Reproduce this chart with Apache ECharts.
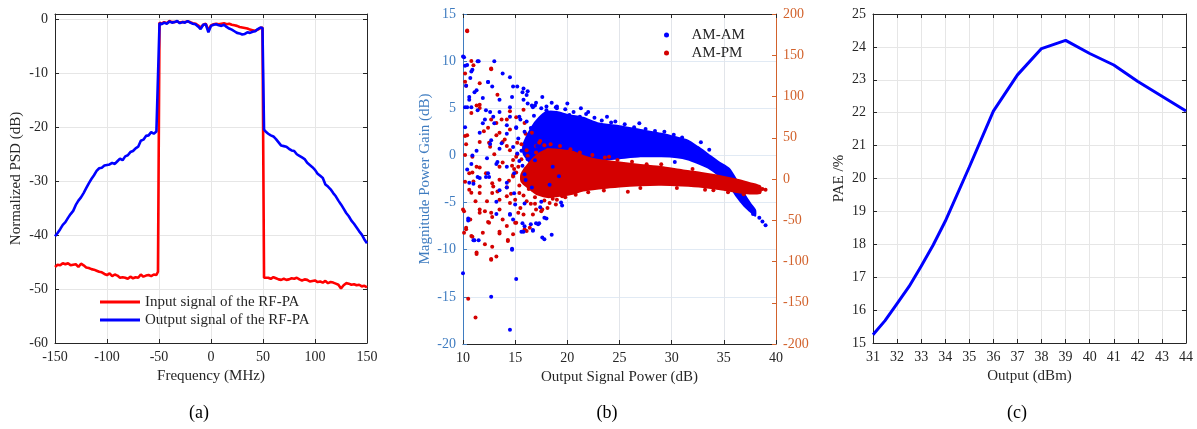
<!DOCTYPE html>
<html><head><meta charset="utf-8">
<script src="https://cdn.jsdelivr.net/npm/echarts@6/dist/echarts.min.js"></script>
<style>html,body{margin:0;padding:0;background:#fff}#c{width:1197px;height:429px}</style>
</head><body><div id="c"></div>
<script>
// ---------- Panel (a): PSD ----------
const freqA = [-150,-147.5,-145,-142.5,-140,-137.5,-135,-132.5,-130,-127.5,-125,-122.5,-120,-117.5,-115,-112.5,-110,-107.5,-105,-102.5,-100,-97.5,-95,-92.5,-90,-87.5,-85,-82.5,-80,-77.5,-75,-72.5,-70,-67.5,-65,-62.5,-60,-57.5,-55,-52.5,
 -51,-49.5,
 -47.5,-45,-42.5,-40,-37.5,-35,-32.5,-30,-27.5,-25,-22.5,-20,-17.5,-15,-12.5,-10,-7.5,-5,-2.5,0,2.5,5,7.5,10,12.5,15,17.5,20,22.5,25,27.5,30,32.5,35,37.5,40,42.5,45,47.5,
 49.5,51,
 52.5,55,57.5,60,62.5,65,67.5,70,72.5,75,77.5,80,82.5,85,87.5,90,92.5,95,97.5,100,102.5,105,107.5,110,112.5,115,117.5,120,122.5,125,127.5,130,132.5,135,137.5,140,142.5,145,147.5,150];
const inputPSD = [-45.9,-45.5,-45.6,-45.2,-45.4,-45.2,-45.6,-45.5,-45.4,-45.9,-45.3,-45.6,-46.0,-46.1,-46.3,-46.4,-46.6,-46.8,-46.9,-47.2,-47.4,-47.1,-47.6,-47.3,-47.5,-47.9,-47.8,-47.9,-48.1,-47.7,-48.0,-47.8,-47.9,-47.3,-47.7,-47.5,-47.4,-47.6,-47.3,-47.4,
 -46.8,-0.6,
 -0.8,-0.5,-0.7,-0.3,-0.5,-0.5,-0.4,-0.6,-0.5,-0.5,-0.4,-0.5,-0.7,-0.8,-1.1,-1.5,-1.0,-0.8,-2.0,-1.1,-0.9,-0.8,-0.9,-0.8,-0.7,-0.9,-0.8,-1.0,-1.1,-1.2,-1.4,-1.5,-1.6,-1.7,-1.9,-2.0,-2.1,-1.9,-1.6,
 -1.5,-47.9,
 -48.2,-47.9,-48.1,-47.8,-48.0,-48.2,-48.3,-48.1,-48.3,-48.2,-48.0,-48.1,-47.9,-48.2,-48.4,-48.2,-48.3,-48.6,-48.5,-48.4,-48.7,-48.6,-48.8,-48.5,-48.9,-48.7,-48.8,-49.0,-49.2,-49.9,-49.3,-48.9,-49.0,-49.2,-49.1,-49.3,-49.2,-49.5,-49.4,-49.7];
const outputPSD = [-40.2,-39.6,-38.9,-38.1,-37.6,-36.8,-36.1,-35.5,-34.4,-33.6,-33.0,-32.2,-31.3,-30.4,-29.6,-28.9,-28.1,-27.6,-27.5,-27.1,-27.0,-26.9,-26.6,-26.8,-26.3,-25.8,-26.1,-25.4,-25.2,-24.6,-24.4,-23.9,-23.6,-22.5,-22.3,-21.6,-21.5,-20.9,-21.2,-20.8,
 -20.9,-0.7,
 -0.9,-0.6,-0.8,-0.4,-0.6,-0.5,-0.3,-0.7,-0.5,-0.6,-0.3,-0.6,-0.8,-0.9,-1.3,-1.8,-1.0,-0.9,-2.4,-1.2,-1.0,-0.9,-1.1,-1.2,-1.0,-1.4,-1.7,-1.9,-2.2,-2.5,-2.6,-2.8,-2.7,-2.4,-2.5,-2.3,-2.2,-1.8,-1.5,
 -1.6,-20.4,
 -20.8,-21.2,-21.5,-21.7,-22.2,-22.8,-23.4,-23.5,-23.6,-24.0,-24.3,-24.4,-25.0,-25.3,-25.6,-25.9,-26.6,-27.0,-27.4,-27.9,-28.6,-29.0,-29.4,-30.6,-31.0,-31.5,-32.2,-32.8,-33.6,-34.3,-35.1,-35.9,-36.5,-37.3,-37.9,-38.6,-39.3,-39.9,-40.8,-41.5];

// ---------- Panel (b): AM-AM / AM-PM ----------
// dense cloud envelopes
const amBandX      = [15.8, 16.6, 17.3, 18, 19, 20, 21.5, 23, 25, 27, 29, 30.5, 31.5, 32.5, 33.5, 34.5, 35.5, 36.2, 37, 37.6, 38];
const amBandTop    = [1.2, 3.0, 4.0, 4.6, 4.6, 4.3, 4.0, 3.4, 3.1, 2.7, 2.3, 1.9, 1.6, 0.9, 0.1, -0.7, -1.4, -2.6, -4.2, -5.2, -5.8];
const amBandBottom = [0.2, -1.0, -1.8, -2, -1.5, -1, -0.7, -0.5, -0.3, -0.1, -0.1, -0.2, -0.4, -0.8, -1.3, -2.1, -3.1, -4.3, -5.4, -6.0, -6.4];
const pmBandX      = [15.6, 16.4, 17.2, 18.2, 19.5, 20.5, 21.5, 23, 25, 27, 29, 31, 33, 35, 36.5, 37.5, 38.5];
const pmBandTop    = [6, 20, 30, 36, 35, 33, 28, 23, 20, 17, 14.5, 10.5, 7, 2.5, -1.5, -5, -9];
const pmBandBottom = [-3, -12, -19, -22, -20, -18, -14, -11.5, -9, -7.5, -7, -8, -9.8, -13, -16.5, -17.5, -17];
// sparse individual points
const amamPoints = [[10,10.5],[10.2,9.5],[10.8,8.9],[11.5,10],[13,10],[10.3,7.4],[10.2,5.1],[10.8,5.1],[10.2,3],[10.6,5.9],[11.3,6.9],[12.4,7.8],[13.8,8.7],[14.8,7.3],[15.8,7.1],[12.2,4.8],[13.5,5.9],[11.9,3.4],[12.9,4.1],[14.5,5.1],[15.8,5.9],[16.7,5.1],[14.2,2.3],[12.6,1.2],[10.8,-0.9],[11.3,0.5],[13.5,0.7],[15.1,3.0],[18,4.8],[18.9,5.1],[20.2,4.3],[21.2,4.1],[12.2,-2.3],[11,-3.0],[13.2,-0.9],[14.2,-3.4],[15.9,-2],
 [10.5,-6.9],[11,-9],[11.5,-9],[13.2,-6.2],[14.5,-6.2],[14.7,-10],[15.1,-13.1],[12.7,-15],[14.5,-18.5],[15.8,-8.1],[16.7,-8],[15.9,-7.5],[16.5,-7.3],[17.2,-7.3],[17.8,-8.9],[18,-6.7],[18.5,-8.4],[10,-12.5],[15,-5.2],[19.5,-5.3],[17.4,-5.5],
 [10.6,-2.9],[11.6,-2.4],[14.5,-6.3],[14.8,-6.8],[15.7,-7.2],[17,-7.2],[17.3,-7.2],[17.8,-6.6],[15.6,-8.1],[16.7,-7.9],[17.6,-8.7],[14.7,-9.9],[13.2,-4.9],[11.1,-9],[10.5,-6.7],[19.4,-5],[17.5,-4.9],[15.9,-5.1],[14.9,-4],[14.2,-2.9],[13.5,-3.7],[12.5,-2.3],[16,-2.6],
 [10.1,10.4],[11.4,10],[10.4,9.6],[10.9,9.1],[10.7,8.2],[14.5,8.3],[12.4,7.8],[12.8,7.3],[11.1,6.7],[15.2,7.3],[15.7,6.7],[16.1,6.4],[10.6,6.2],[11.9,6.1],[14.7,6.2],[16.2,5.5],[16.9,5.3],[17.5,5],[18,5.2],[19,5],[10.4,5.1],[11.4,4.8],[12.6,4.6],[13.5,4.6],[14.5,4.1],[15.4,4.1],[12.1,3.8],[13,3.4],[14.2,3.2],[15.1,2.9],[15.9,2.5],[11.6,2.4],[12.7,1.6],[13.7,1.3],[14.8,0.9],[10.9,0],[12.3,-0.3],[13.3,-0.7],[14.2,-1.2],[10.4,-1.5],[12.4,-1.9],[11.4,-2.3],
 [19,5.2],[19.8,4.9],[20.6,4.6],[21.8,4.4],[22.6,4.0],[23.3,3.7],[24.2,3.5],[25.5,3.3],[26.4,3.0],[27.5,2.8],[28.4,2.6],[29.3,2.5],[30.2,2.2],[31,1.9],[24.6,3.6],[22,4.6],[20,5.5],[18.5,5.6],[17.6,6.2],[17,5.6],[16.2,6.8],[16.6,5.3],[18.2,3.9],[16.4,1.2],[16.9,-0.5],[17.3,2.7],[15.6,0.5],[16.1,3.6],[17.9,1.8],[18.6,-1.2],[15.3,1.8],[14.9,-1.9],[16.6,-3.4],[18.3,-3.1],[19.2,-2.2],[30.3,-0.7],[38.4,-6.6],[38.7,-7],[39,-7.4],[37.8,-6.2],[32.8,1.4],[33.6,0.6],[21.3,5.0],[23.8,4.1],[26.9,3.4],
 [15.5,3.8],[16.3,2.2],[15.2,0.2],[16.8,4.2],[17.1,1.0],[15.7,-1.1],[16.2,-0.4],[16.5,2.9],[15.4,-0.6],[17.8,3.1]];
const ampmPoints = [[10.4,180],[10.8,143],[11,138],[12.7,133],[10.2,128],[10.3,113],[11.6,90],[11.6,86],[13.3,102],[15.8,84],[14.2,72],[13.2,68],[10.3,42],[10.2,29],[10.8,80],[12,58],[12.5,44],[11.3,15],[11,-3],[12.2,7],[13.5,56],[14.2,40],[15.1,27],[11.6,-17],[12.9,-9],[10.2,52],
 [10.1,-65],[10.3,-59],[10.8,-69],[10.7,-49],[11.3,-91],[10.5,-145],[11.2,-168],[12.7,-98],[13.2,-94],[12.1,-79],[12.5,-53],[13.5,-66],[14.2,-57],[14.3,-75],[12.7,-41],[11.6,-41],[15.8,-43],[15.1,-53],[16.7,-43],[17.5,-39],[18.1,-35],[18.9,-31],[16.1,-63],[11.9,-65],[10.1,-39],[14.8,-67],
 [10.2,-3.4],[10.8,-16.7],[10,-37],[10.3,-61],[10.9,-70],[11.3,-89],[12.8,-82],[12.7,-97],[14.3,-74],[13.5,-64],[11.6,-37],[12.1,-39],[12.4,-52],[12.8,-46],[13.8,-49],[15,-53],[15.3,-41],[15.9,-61],[16.4,-59],[17,-37],[17.6,-37],[18.3,-29],[19,-25],[16.1,-27],[14.5,-29],[12.3,-27],[11.2,-27],[10.6,-13],[11.6,-9],[12.8,-17],[14.2,-21],[15.4,-17],[13.5,-1],[14.8,3],[16.7,-13],[18,-19],[19.5,-21],[13.5,-37],[10.6,7],
 [10.4,179],[12.7,134],[10.2,118],[11.6,116],[11.3,89],[13.7,72],[14.5,82],[12.7,72],[12.4,62],[13.2,53],[13.8,45],[11.6,45],[10.4,53],[10.9,27],[12.6,39],[14.5,60],[15.1,75],[15.9,68],[16.6,56],[15.2,44],[16.1,35],[17.3,44],[14.8,23],[13.5,15],[11.6,14],[10.9,8],[17,32],[18.1,35],
 [13.8,20],[14.2,-10],[14.5,35],[14.8,5],[15,-25],[15.3,15],[15.6,42],[15.9,-5],[16.2,28],[16.5,-30],[16.8,10],[17,40],[17.3,-15],[17.6,22],[13.5,-25],[13,30],[12.8,-5],[14,48],[15.5,-35],[16,55],[14.6,-18],[15.2,30],[15.7,0],[16.3,-12],[16.9,-22],[17.8,-26],[18.6,-24],[19.8,-22],[20.8,-19],[22,-16],[17.4,46],[18.4,42],[19.3,40],[20.3,36],[21.2,32],[22.4,29],[23.6,26],[24.8,23],[26.2,21],[27.6,18],[14.9,12],[16.4,18],[13.3,-15],[15.8,-20],
 [38.7,-12],[39,-13],[25.8,-15.5],[37.9,-15],[38.2,-11],[36.9,-18.5],[34,-13.5],
 [15.1,8],[15.4,-8],[14.7,16],[16.0,12],[15.6,24],[14.4,-2],[16.9,-30],[17.8,41],[23.5,-14],[27,-11],[30.5,-11],[33.2,-13],[35.4,-16],[24,27],[29,18],[32,12]];

// ---------- Panel (c): PAE ----------
const paeOutput = [31,31.5,32,32.5,33,33.5,34,35,36,37,38,39,40,41,42,43,44];
const paeValues = [15.25,15.68,16.2,16.72,17.33,17.98,18.7,20.35,22.05,23.15,23.95,24.2,23.8,23.45,22.95,22.5,22.05];

// ---------- styling ----------
const FONT = "'Liberation Serif','DejaVu Serif',serif";
const DARK = '#262626';
const GRIDC = '#e6e6e6';
const LBLUE = '#3f7cc0';
const ORANGE = '#d2622c';

function bottomX(gi, min, max, interval, name, gridColor) {
  return {type:'value', gridIndex:gi, position:'bottom', min, max, interval,
    name, nameLocation:'middle', nameGap:25, nameTextStyle:{fontFamily:FONT, fontSize:15, color:DARK},
    axisLine:{show:true, onZero:false, lineStyle:{color:DARK, width:1}},
    axisTick:{show:true, inside:true, length:4, lineStyle:{color:DARK}},
    axisLabel:{fontFamily:FONT, fontSize:14, color:DARK, margin:7},
    splitLine:{show:true, lineStyle:{color:gridColor||GRIDC, width:1}}};
}
function topX(gi, min, max, interval) {
  return {type:'value', gridIndex:gi, position:'top', min, max, interval,
    axisLine:{show:true, onZero:false, lineStyle:{color:DARK, width:1}},
    axisTick:{show:true, inside:true, length:4, lineStyle:{color:DARK}},
    axisLabel:{show:false}, splitLine:{show:false}};
}
function sideY(gi, pos, min, max, interval, color, showLabel, name, nameGap, gridColor, fmt) {
  return {type:'value', gridIndex:gi, position:pos, min, max, interval,
    name: name||'', nameLocation:'middle', nameGap:nameGap||0, nameRotate:90,
    nameTextStyle:{fontFamily:FONT, fontSize:15, color:color},
    axisLine:{show:true, onZero:false, lineStyle:{color:color, width:1}},
    axisTick:{show:true, inside:true, length:4, lineStyle:{color:color}},
    axisLabel:{show:showLabel, fontFamily:FONT, fontSize:14, color:color, margin:7, formatter: fmt},
    splitLine:{show:!!gridColor, lineStyle:{color:gridColor||GRIDC, width:1}}};
}
function bandSeries(name, xs, top, bottom, xi, yi, color) {
  return {name, type:'custom', xAxisIndex:xi, yAxisIndex:yi, silent:true,
    data:[[xs[0], top[0]]],
    renderItem:(params, api) => {
      const pts = [];
      for (let i = 0; i < xs.length; i++) pts.push(api.coord([xs[i], top[i]]));
      for (let i = xs.length - 1; i >= 0; i--) pts.push(api.coord([xs[i], bottom[i]]));
      return {type:'polygon', shape:{points:pts, smooth:0.2},
        style:{fill:color, stroke:color, lineWidth:2}};
    }};
}

const chart = echarts.init(document.getElementById('c'), null, {renderer:'canvas'});
chart.setOption({
  animation:false,
  backgroundColor:'#ffffff',
  grid:[
    {left:55, top:14, width:312, height:329},
    {left:463, top:14, width:313, height:330},
    {left:873, top:14, width:313, height:329}
  ],
  xAxis:[
    bottomX(0, -150, 150, 50, 'Frequency (MHz)'),
    topX(0, -150, 150, 50),
    bottomX(1, 10, 40, 5, 'Output Signal Power (dB)', '#e2e5ea'),
    topX(1, 10, 40, 5),
    bottomX(2, 31, 44, 1, 'Output (dBm)'),
    topX(2, 31, 44, 1)
  ],
  yAxis:[
    sideY(0, 'left', -60, 1, 10, DARK, true, 'Normalized PSD (dB)', 31, GRIDC, v => (v % 10 === 0 ? v : '')),
    sideY(0, 'right', -60, 1, 10, DARK, false),
    sideY(1, 'left', -20, 15, 5, LBLUE, true, 'Magnitude Power Gain (dB)', 30, '#e1eaf4'),
    sideY(1, 'right', -200, 200, 50, ORANGE, true),
    sideY(2, 'left', 15, 25, 1, DARK, true, 'PAE /%', 26, GRIDC),
    sideY(2, 'right', 15, 25, 1, DARK, false)
  ],
  legend:[
    {data:['Input signal of the RF-PA','Output signal of the RF-PA'], orient:'vertical',
     left:100, top:294, padding:0, itemGap:2, itemWidth:40, itemHeight:3, icon:'rect',
     textStyle:{fontFamily:FONT, fontSize:15, color:DARK, lineHeight:16}},
    {data:['AM-AM','AM-PM'], orient:'vertical', left:664, top:26, padding:0, itemGap:0,
     itemWidth:40, itemHeight:5, icon:'circle',
     textStyle:{fontFamily:FONT, fontSize:15, color:DARK, lineHeight:18}}
  ],
  graphic:[
    {type:'text', x:199, y:413, style:{text:'(a)', font:'18px '+FONT, fill:'#000', textAlign:'center', textVerticalAlign:'middle'}},
    {type:'text', x:607, y:413, style:{text:'(b)', font:'18px '+FONT, fill:'#000', textAlign:'center', textVerticalAlign:'middle'}},
    {type:'text', x:1017, y:413, style:{text:'(c)', font:'18px '+FONT, fill:'#000', textAlign:'center', textVerticalAlign:'middle'}}
  ],
  series:[
    {name:'Input signal of the RF-PA', type:'line', xAxisIndex:0, yAxisIndex:0, symbol:'none',
     data: freqA.map((f,i)=>[f, inputPSD[i]]), lineStyle:{color:'#ff0000', width:2.6}, itemStyle:{color:'#ff0000'}},
    {name:'Output signal of the RF-PA', type:'line', xAxisIndex:0, yAxisIndex:0, symbol:'none',
     data: freqA.map((f,i)=>[f, outputPSD[i]]), lineStyle:{color:'#0000ff', width:2.6}, itemStyle:{color:'#0000ff'}},
    bandSeries('amBand', amBandX, amBandTop, amBandBottom, 2, 2, '#0000ff'),
    bandSeries('pmBand', pmBandX, pmBandTop, pmBandBottom, 2, 3, '#d40000'),
    {name:'AM-PM', type:'scatter', xAxisIndex:2, yAxisIndex:3, symbol:'circle', symbolSize:4,
     data: ampmPoints, itemStyle:{color:'#d40000', opacity:1}},
    {name:'AM-AM', type:'scatter', xAxisIndex:2, yAxisIndex:2, symbol:'circle', symbolSize:4,
     data: amamPoints, itemStyle:{color:'#0000ff', opacity:1}},
    {name:'PAE', type:'line', xAxisIndex:4, yAxisIndex:4, symbol:'none',
     data: paeOutput.map((x,i)=>[x, paeValues[i]]), lineStyle:{color:'#0000ff', width:3}}
  ]
});
</script>
</body></html>
